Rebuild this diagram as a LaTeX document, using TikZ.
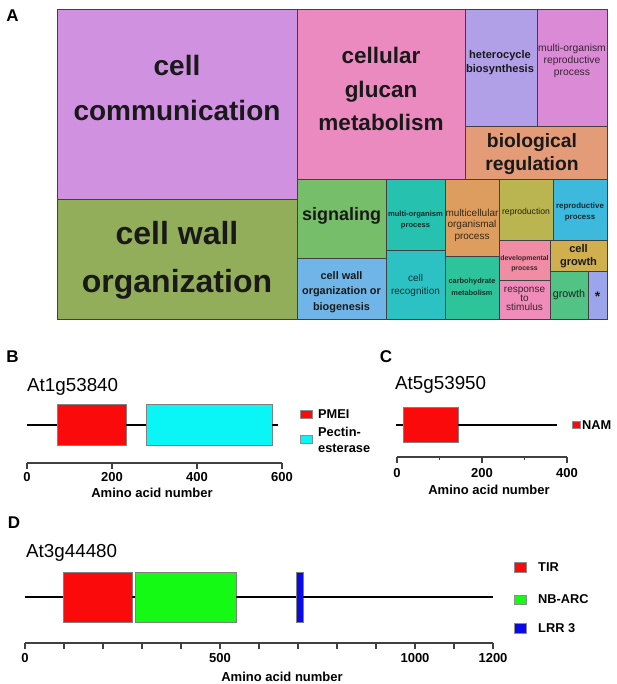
\documentclass[tikz,border=0pt]{standalone}
\usepackage{fontspec}
\setmainfont{Liberation Sans}
\usepackage{tikz}
\usetikzlibrary{calc}

\newcommand{\fsz}[2]{\fontsize{#1}{#2}\selectfont}

\definecolor{cComm}{RGB}{207,145,224}
\definecolor{cWall}{RGB}{147,174,90}
\definecolor{cGluc}{RGB}{234,138,190}
\definecolor{cHete}{RGB}{177,160,232}
\definecolor{cMrep}{RGB}{219,139,214}
\definecolor{cBreg}{RGB}{227,155,120}
\definecolor{cSign}{RGB}{119,190,106}
\definecolor{cWbio}{RGB}{112,181,232}
\definecolor{cMorg}{RGB}{38,193,175}
\definecolor{cRecg}{RGB}{44,194,196}
\definecolor{cMcel}{RGB}{221,157,94}
\definecolor{cCarb}{RGB}{46,196,155}
\definecolor{cRepr}{RGB}{186,181,80}
\definecolor{cRpro}{RGB}{60,185,220}
\definecolor{cDevp}{RGB}{240,140,163}
\definecolor{cResp}{RGB}{240,140,185}
\definecolor{cCgro}{RGB}{208,175,78}
\definecolor{cGrow}{RGB}{82,194,133}
\definecolor{cStar}{RGB}{155,165,235}
\definecolor{dRed}{RGB}{250,10,10}
\definecolor{dCyan}{RGB}{10,245,245}
\definecolor{dGreen}{RGB}{20,250,20}
\definecolor{dBlue}{RGB}{10,10,230}

\begin{document}
\begin{tikzpicture}[x=1pt, y=-1pt,
	tile/.style={draw=black!75, line width=0.9pt},
	lbl/.style={align=center, inner sep=0pt, text=black!90},
	panel/.style={inner sep=0pt, font=\fsz{17}{17}\bfseries},
	title/.style={inner sep=0pt, anchor=west, font=\fsz{18.8}{20}},
	dom/.style={draw=black!50, line width=0.6pt, inner sep=0pt},
	key/.style={draw=black!45, line width=0.4pt, inner sep=0pt},
	keytext/.style={inner sep=0pt, anchor=west, align=left, font=\fsz{12.8}{16}\bfseries},
	backbone/.style={draw=black, line width=2pt},
	axis/.style={draw=black!75, line width=1.6pt},
	ticktext/.style={inner sep=0pt, font=\fsz{13}{13}\bfseries}]
			\useasboundingbox (0,0) rectangle (617,684);
			
			% A: treemap
			\node(A) [panel] at (12.5,15.5) {A};
			\filldraw[tile, fill=cComm] (57,9) rectangle (297,199);
			\filldraw[tile, fill=cWall] (57,199) rectangle (297,319);
			\filldraw[tile, fill=cGluc] (297,9) rectangle (465,179);
			\filldraw[tile, fill=cHete] (465,9) rectangle (537,126);
			\filldraw[tile, fill=cMrep] (537,9) rectangle (607,126);
			\filldraw[tile, fill=cBreg] (465,126) rectangle (607,179);
			\filldraw[tile, fill=cSign] (297,179) rectangle (386,258);
			\filldraw[tile, fill=cWbio] (297,258) rectangle (386,319);
			\filldraw[tile, fill=cMorg] (386,179) rectangle (445,250);
			\filldraw[tile, fill=cRecg] (386,250) rectangle (445,319);
			\filldraw[tile, fill=cMcel] (445,179) rectangle (499,256);
			\filldraw[tile, fill=cCarb] (445,256) rectangle (499,319);
			\filldraw[tile, fill=cRepr] (499,179) rectangle (553,240);
			\filldraw[tile, fill=cRpro] (553,179) rectangle (607,240);
			\filldraw[tile, fill=cDevp] (499,240) rectangle (550,280);
			\filldraw[tile, fill=cResp] (499,280) rectangle (550,319);
			\filldraw[tile, fill=cCgro] (550,240) rectangle (607,271);
			\filldraw[tile, fill=cGrow] (550,271) rectangle (588,319);
			\filldraw[tile, fill=cStar] (588,271) rectangle (607,319);
			
			\node(tComm) [lbl, font=\fsz{28}{45}\bfseries] at (177,88) {cell\\communication};
			\node(tWall) [lbl, font=\fsz{32}{48}\bfseries] at (177,260) {cell wall\\organization};
			\node(tGluc) [lbl, font=\fsz{22.5}{33.5}\bfseries] at (381,89) {cellular\\glucan\\metabolism};
			\node(tHete) [lbl, font=\fsz{11.1}{14.5}\bfseries] at (500,62.5) {heterocycle\\biosynthesis};
			\node(tMrep) [lbl, font=\fsz{10.3}{12}, text=cMrep!25!black] at (572,61) {multi-organism\\reproductive\\process};
			\node(tBreg) [lbl, font=\fsz{19.3}{22.5}\bfseries] at (532,154) {biological\\regulation};
			\node(tSign) [lbl, font=\fsz{18}{20}\bfseries] at (341.5,216) {signaling};
			\node(tWbio) [lbl, font=\fsz{10.9}{15.5}\bfseries] at (341.5,292) {cell wall\\organization or\\biogenesis};
			\node(tMorg) [lbl, font=\fsz{7.6}{11.5}\bfseries, text=cMorg!25!black] at (415.5,220) {multi-organism\\process};
			\node(tRecg) [lbl, font=\fsz{10}{13}, text=cRecg!25!black] at (415.5,285) {cell\\recognition};
			\node(tMcel) [lbl, font=\fsz{10}{11.5}, text=cMcel!25!black] at (472,225) {multicellular\\organismal\\process};
			\node(tCarb) [lbl, font=\fsz{7.4}{12}\bfseries, text=cCarb!25!black] at (472,287) {carbohydrate\\metabolism};
			\node(tRepr) [lbl, font=\fsz{8.6}{10}, text=cRepr!20!black] at (526,212) {reproduction};
			\node(tRpro) [lbl, font=\fsz{7.9}{11}\bfseries, text=cRpro!25!black] at (580,212) {reproductive\\process};
			\node(tDevp) [lbl, font=\fsz{6.9}{10}\bfseries, text=cDevp!25!black] at (524.5,264) {developmental\\process};
			\node(tCgro) [lbl, font=\fsz{11.1}{13.5}\bfseries] at (578.5,256) {cell\\growth};
			\node(tResp) [lbl, font=\fsz{10}{8.7}, text=cResp!25!black] at (524.5,299) {response\\to\\stimulus};
			\node(tGrow) [lbl, font=\fsz{10.7}{12}, text=cGrow!20!black] at (569,295) {growth};
			\node(tStar) [lbl, font=\fsz{14}{14}\bfseries] at (597.5,297) {*};
			
			% B: At1g53840
			\node(B) [panel] at (12.5,356.5) {B};
			\node(tB) [title] at (27,387) {At1g53840};
			\coordinate (bs) at (27,425);
			\coordinate (be) at (278,425);
			\node(pmei) [dom, fill=dRed, minimum width=69, minimum height=41] at (91.5,425) {};
			\node(pest) [dom, fill=dCyan, minimum width=126, minimum height=41] at (209,425) {};
			\draw[backbone] (bs) -- (pmei.west);
			\draw[backbone] (pmei.east) -- (pest.west);
			\draw[backbone] (pest.east) -- (be);
			\node(kPmei) [key, fill=dRed, minimum width=12, minimum height=8] at (306,414) {};
			\node(kPest) [key, fill=dCyan, minimum width=12, minimum height=8] at (306,439) {};
			\node(lPmei) [keytext] at (318,414) {PMEI};
			\node(lPest) [keytext] at (318,440) {Pectin-\\esterase};
			\coordinate (ba) at (27,463);
			\draw[axis] (ba) -- ++(255,0);
			\foreach \t in {0,200,400,600}{
				\draw[axis] ($(ba)+(\t*0.425,0)$) -- ++(0,6);
				\node(bl\t) [ticktext] at ($(ba)+(\t*0.425,14)$) {\t};
			}
			\node(bx) [ticktext] at (152,493) {Amino acid number};
			
			% C: At5g53950
			\node(C) [panel] at (386,357) {C};
			\node(tC) [title] at (395,385) {At5g53950};
			\coordinate (cs) at (396,425);
			\coordinate (ce) at (557,425);
			\node(nam) [dom, fill=dRed, minimum width=55, minimum height=35] at (430.5,425) {};
			\draw[backbone] (cs) -- (nam.west);
			\draw[backbone] (nam.east) -- (ce);
			\node(kNam) [key, fill=dRed, minimum width=8, minimum height=7] at (576,424.5) {};
			\node(lNam) [keytext] at (582,425) {NAM};
			\coordinate (ca) at (397,457);
			\draw[axis] (ca) -- ++(170,0);
			\foreach \t in {0,200,400}{
				\draw[axis] ($(ca)+(\t*0.425,0)$) -- ++(0,6);
				\node(cl\t) [ticktext] at ($(ca)+(\t*0.425,16)$) {\t};
			}
			\foreach \t in {100,300}
				\draw[axis, line width=0.9pt] ($(ca)+(\t*0.425,0)$) -- ++(0,3);
			\node(cx) [ticktext] at (489,490) {Amino acid number};
			
			% D: At3g44480
			\node(D) [panel] at (14,522.5) {D};
			\node(tD) [title] at (26,553) {At3g44480};
			\coordinate (ds) at (25,597);
			\coordinate (de) at (493,597);
			\node(tir) [dom, fill=dRed, minimum width=69, minimum height=50] at (97.5,597) {};
			\node(nbarc) [dom, fill=dGreen, minimum width=101, minimum height=50] at (185.5,597) {};
			\node(lrr) [dom, fill=dBlue, minimum width=7, minimum height=50] at (299.5,597) {};
			\draw[backbone] (ds) -- (tir.west);
			\draw[backbone] (tir.east) -- (nbarc.west);
			\draw[backbone] (nbarc.east) -- (lrr.west);
			\draw[backbone] (lrr.east) -- (de);
			\node(kTir) [key, fill=dRed, minimum width=12, minimum height=10] at (520,567) {};
			\node(kNb) [key, fill=dGreen, minimum width=12, minimum height=9] at (520,599.5) {};
			\node(kLrr) [key, fill=dBlue, minimum width=12, minimum height=10] at (520,628) {};
			\node(lTir) [keytext] at (538,567) {TIR};
			\node(lNb) [keytext] at (538,599.5) {NB-ARC};
			\node(lLrr) [keytext] at (538,628) {LRR 3};
			\coordinate (da) at (25,643);
			\draw[axis] (da) -- ++(468,0);
			\foreach \t in {0,100,...,1200}
				\draw[axis] ($(da)+(\t*0.39,0)$) -- ++(0,6);
			\foreach \t in {0,500,1000,1200}
				\node(dl\t) [ticktext] at ($(da)+(\t*0.39,15)$) {\t};
			\node(dx) [ticktext] at (282,677) {Amino acid number};
		\end{tikzpicture}
\end{document}
